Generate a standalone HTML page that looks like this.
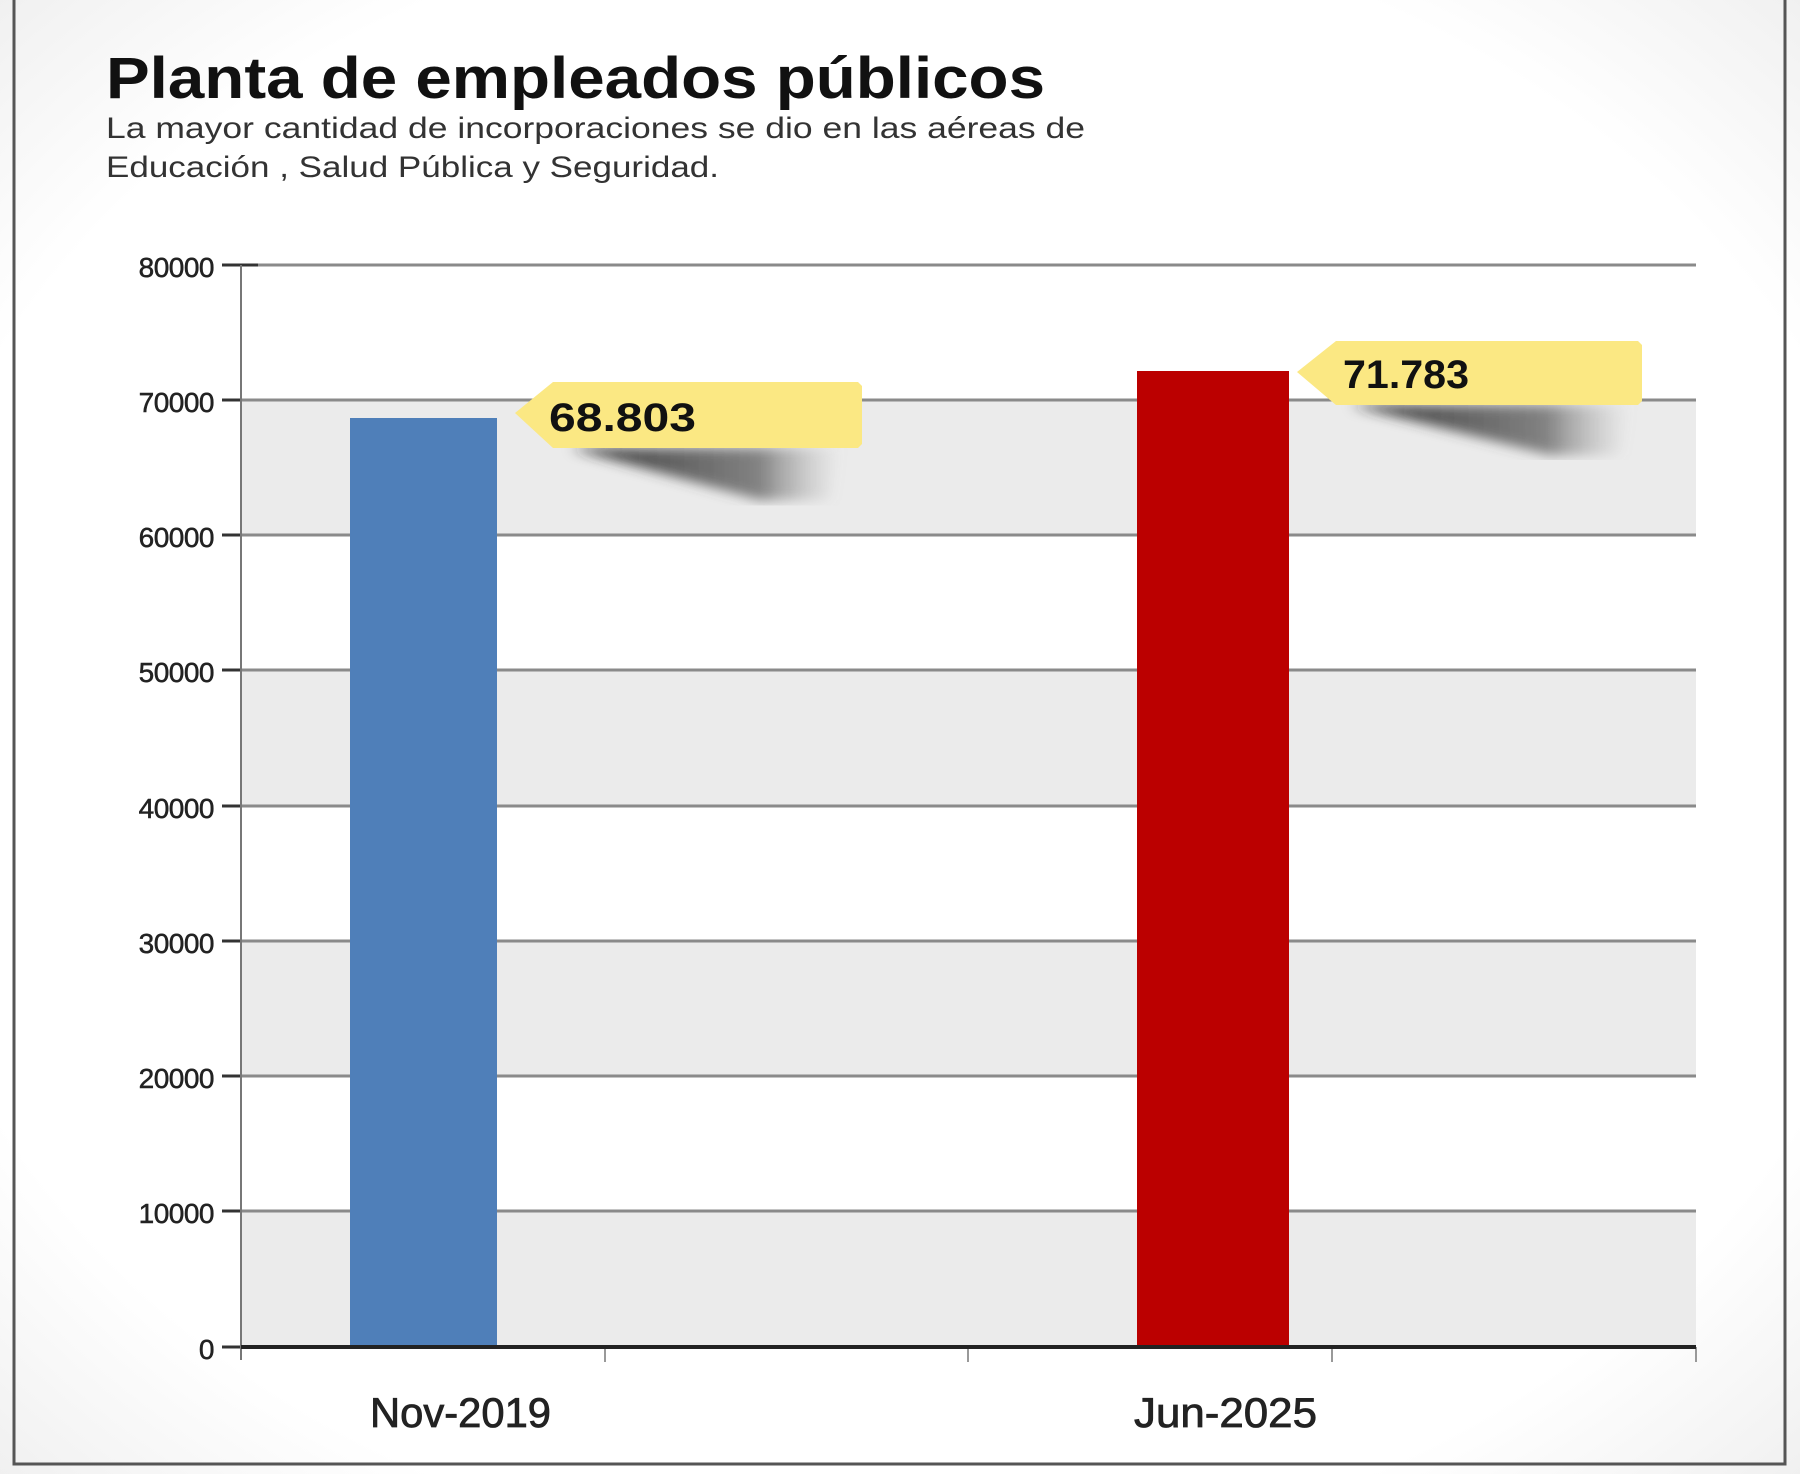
<!DOCTYPE html>
<html><head><meta charset="utf-8"><style>
html,body{margin:0;padding:0;background:#fff}
svg{display:block}
text{font-family:"Liberation Sans",sans-serif}
</style></head><body>
<svg width="1800" height="1474" viewBox="0 0 1800 1474" xmlns="http://www.w3.org/2000/svg">
<defs>
<radialGradient id="vig" cx="50%" cy="50%" r="75%">
<stop offset="0.75" stop-color="#ffffff"/><stop offset="1" stop-color="#ececec"/>
</radialGradient>
<linearGradient id="sh" x1="0" y1="0" x2="1" y2="0">
<stop offset="0" stop-color="#222" stop-opacity="0.9"/><stop offset="0.7" stop-color="#555" stop-opacity="0.7"/><stop offset="1" stop-color="#999" stop-opacity="0"/>
</linearGradient>
<filter id="bl"><feGaussianBlur stdDeviation="6"/></filter>
</defs>
<rect x="0" y="0" width="1800" height="1474" fill="url(#vig)"/>
<rect x="14" y="-5" width="1771" height="1469" fill="none" stroke="#555" stroke-width="3"/>
<text x="106" y="98" font-size="58" font-weight="bold" fill="#111" textLength="939" lengthAdjust="spacingAndGlyphs">Planta de empleados públicos</text>
<text x="106" y="138" font-size="30" fill="#333" textLength="979" lengthAdjust="spacingAndGlyphs">La mayor cantidad de incorporaciones se dio en las aéreas de</text>
<text x="106" y="177" font-size="30" fill="#333" textLength="613" lengthAdjust="spacingAndGlyphs">Educación , Salud Pública y Seguridad.</text>
<!-- bands -->
<rect x="241" y="400" width="1455" height="135" fill="#ebebeb"/>
<rect x="241" y="670" width="1455" height="136" fill="#ebebeb"/>
<rect x="241" y="941" width="1455" height="135" fill="#ebebeb"/>
<rect x="241" y="1211" width="1455" height="136" fill="#ebebeb"/>
<g stroke="#8a8a8a" stroke-width="3">
<line x1="241" y1="265" x2="1696" y2="265"/><line x1="241" y1="400" x2="1696" y2="400"/>
<line x1="241" y1="535" x2="1696" y2="535"/><line x1="241" y1="670" x2="1696" y2="670"/>
<line x1="241" y1="806" x2="1696" y2="806"/><line x1="241" y1="941" x2="1696" y2="941"/>
<line x1="241" y1="1076" x2="1696" y2="1076"/><line x1="241" y1="1211" x2="1696" y2="1211"/>
</g>
<g stroke="#333" stroke-width="3">
<line x1="222" y1="265" x2="258" y2="265"/><line x1="222" y1="400" x2="241" y2="400"/>
<line x1="222" y1="535" x2="241" y2="535"/><line x1="222" y1="670" x2="241" y2="670"/>
<line x1="222" y1="806" x2="241" y2="806"/><line x1="222" y1="941" x2="241" y2="941"/>
<line x1="222" y1="1076" x2="241" y2="1076"/><line x1="222" y1="1211" x2="241" y2="1211"/>
<line x1="222" y1="1347" x2="241" y2="1347"/>
</g>
<line x1="241" y1="265" x2="241" y2="1360" stroke="#777" stroke-width="2"/>
<g stroke="#999" stroke-width="2">
<line x1="605" y1="1347" x2="605" y2="1362"/><line x1="968" y1="1347" x2="968" y2="1362"/>
<line x1="1332" y1="1347" x2="1332" y2="1362"/><line x1="1696" y1="1347" x2="1696" y2="1362"/>
</g>
<g font-size="28" fill="#222" text-anchor="end" letter-spacing="-0.5" stroke="#222" stroke-width="0.5">
<text x="214" y="277">80000</text><text x="214" y="412">70000</text><text x="214" y="547">60000</text>
<text x="214" y="682">50000</text><text x="214" y="818">40000</text><text x="214" y="953">30000</text>
<text x="214" y="1088">20000</text><text x="214" y="1223">10000</text><text x="214" y="1359">0</text>
</g>
<rect x="350" y="418" width="147" height="929" fill="#4f7fb9"/>
<rect x="1137" y="371" width="152" height="976" fill="#bb0000"/>
<line x1="241" y1="1347" x2="1696" y2="1347" stroke="#222" stroke-width="4"/>
<!-- shadows -->
<polygon points="570,448 840,448 830,500 760,500" fill="url(#sh)" filter="url(#bl)"/>
<polygon points="1350,405 1630,405 1620,455 1550,455" fill="url(#sh)" filter="url(#bl)"/>
<!-- labels -->
<polygon points="515,413 553,382 858,382 862,386 862,444 858,448 553,448" fill="#fbe883"/>
<text x="549" y="431" font-size="40" font-weight="bold" fill="#111" textLength="147" lengthAdjust="spacingAndGlyphs">68.803</text>
<polygon points="1297,372 1336,341 1638,341 1642,345 1642,401 1638,405 1336,405" fill="#fbe883"/>
<text x="1343" y="388" font-size="40" font-weight="bold" fill="#111" textLength="126" lengthAdjust="spacingAndGlyphs">71.783</text>
<g font-size="42" fill="#222" stroke="#222" stroke-width="0.8">
<text x="370" y="1427" textLength="181" lengthAdjust="spacingAndGlyphs">Nov-2019</text>
<text x="1134" y="1427" textLength="183" lengthAdjust="spacingAndGlyphs">Jun-2025</text>
</g>
</svg>
</body></html>
